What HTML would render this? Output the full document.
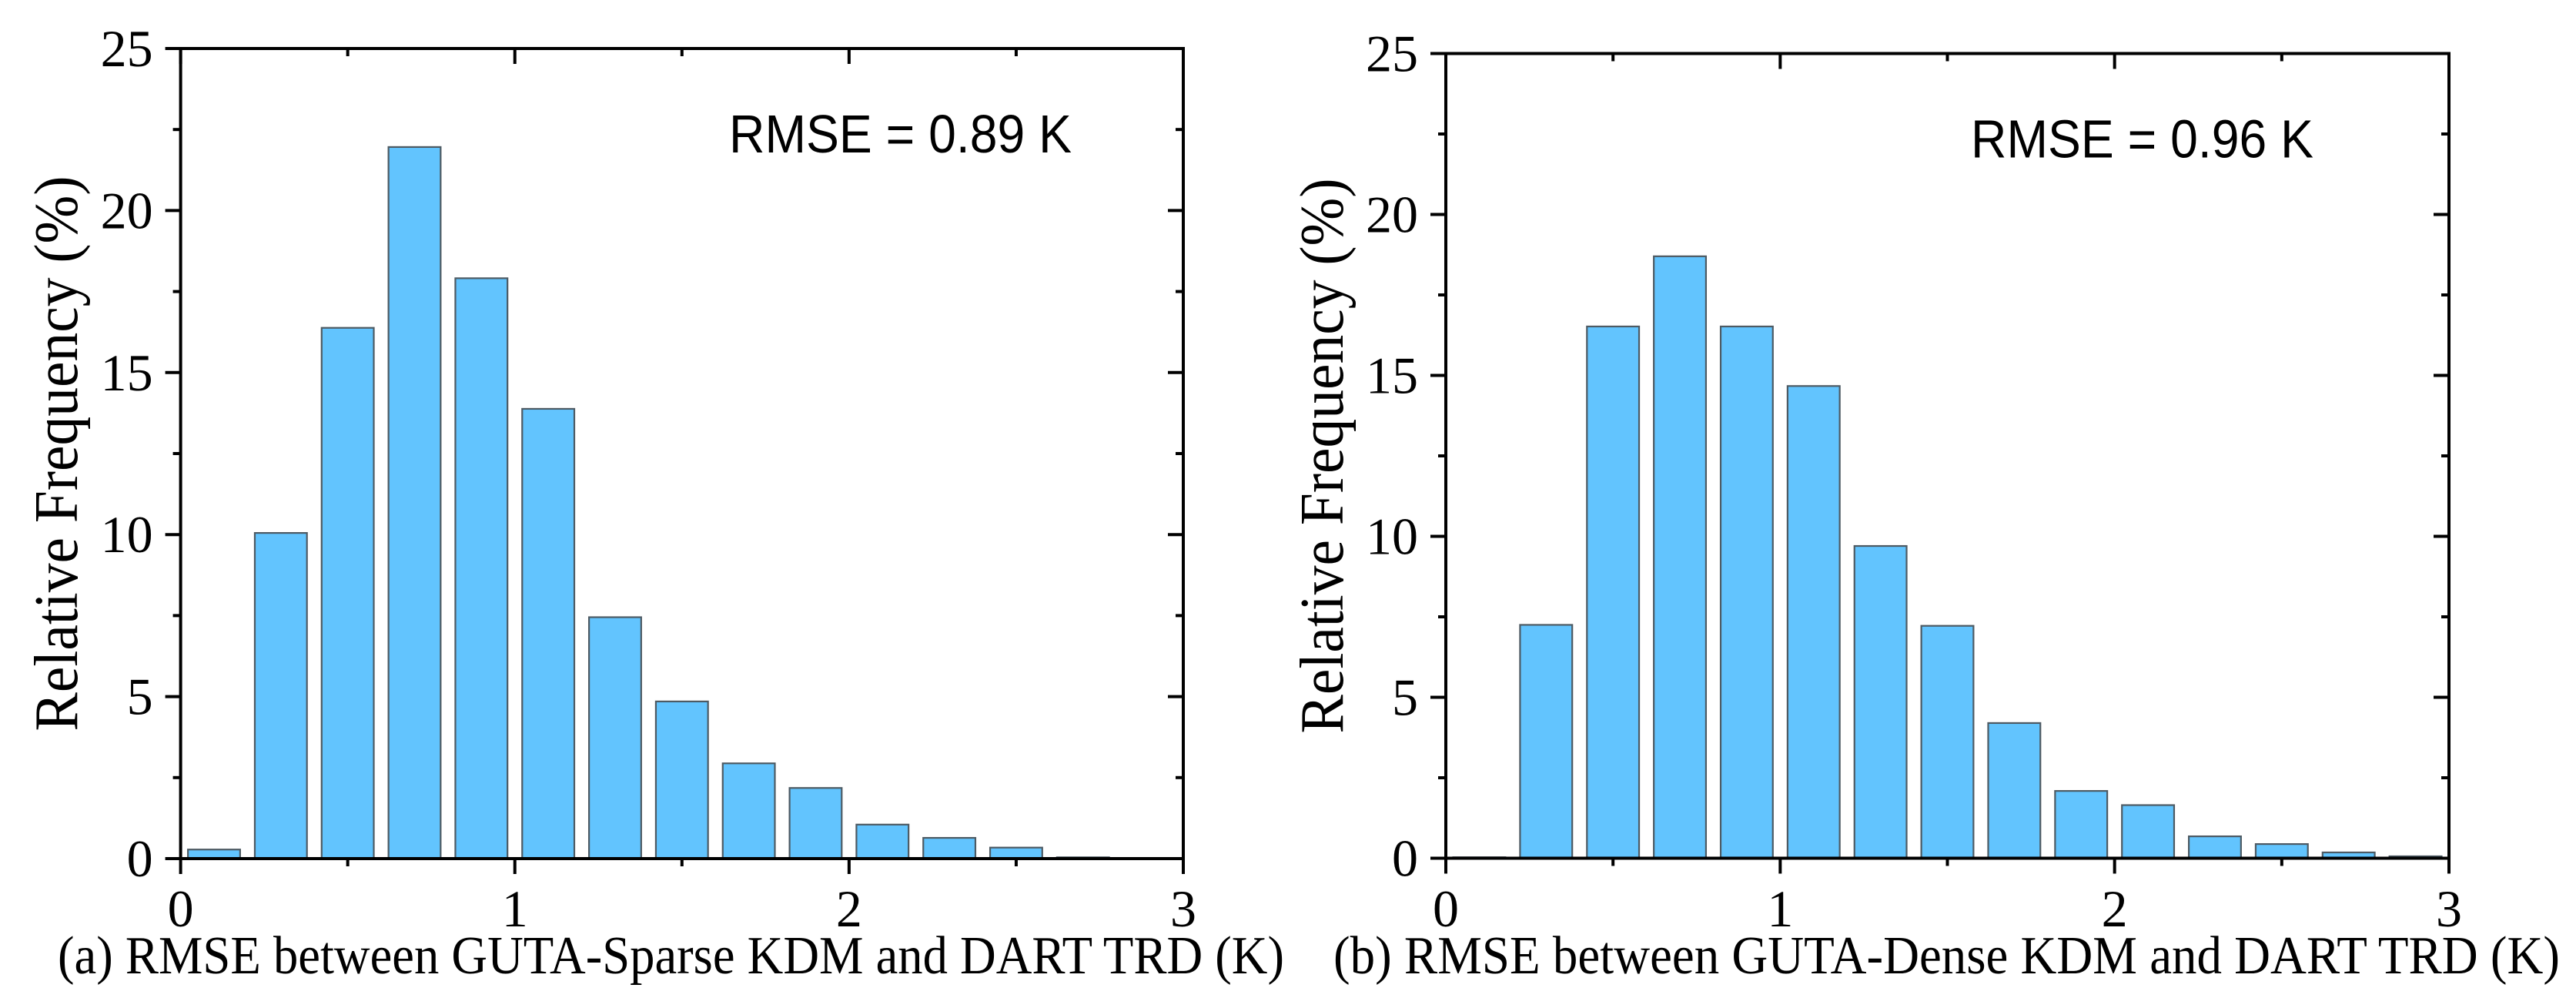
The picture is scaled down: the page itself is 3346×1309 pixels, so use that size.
<!DOCTYPE html>
<html><head><meta charset="utf-8"><style>
html,body{margin:0;padding:0;background:#fff;}
svg{display:block;}
</style></head><body>
<svg id="fig" width="3346" height="1309" viewBox="0 0 3346 1309" xmlns="http://www.w3.org/2000/svg"></svg>
<script>
// Chart data
const binCenters = [0.1,0.3,0.5,0.7,0.9,1.1,1.3,1.5,1.7,1.9,2.1,2.3,2.5,2.7,2.9];
const sparseValues = [0.28,10.05,16.38,21.96,17.91,13.88,7.45,4.85,2.94,2.18,1.05,0.64,0.34,0.04];
const denseValues = [0.03,7.25,16.52,18.7,16.52,14.67,9.7,7.22,4.2,2.09,1.65,0.68,0.44,0.18,0.06];
const xTickLabels = ["0","1","2","3"];
const yTickLabels = ["0","5","10","15","20","25"];
const rmseLabels = ["RMSE = 0.89 K","RMSE = 0.96 K"];
const captions = ["(a) RMSE between GUTA-Sparse KDM and DART TRD (K)","(b) RMSE between GUTA-Dense KDM and DART TRD (K)"];

const NS = "http://www.w3.org/2000/svg";
const svg = document.getElementById('fig');
function mk(tag, attrs, parent){
  const e = document.createElementNS(NS, tag);
  for (const k in attrs) e.setAttribute(k, attrs[k]);
  (parent||svg).appendChild(e);
  return e;
}
const panels = [
  {x0:234.6,x1:1537,y0:1115,y1:63,vals:sparseValues,rmse:rmseLabels[0],rmseX:947,cap:captions[0],capX:75,capW:1593,titleX:100,name:'panel-a'},
  {x0:1878,x1:3181,y0:1114.5,y1:69.5,vals:denseValues,rmse:rmseLabels[1],rmseX:2560,cap:captions[1],capX:1732,capW:1593,titleX:1744,name:'panel-b'}
];
const BW = 0.156;
panels.forEach(p=>{
  const g = mk('g',{});
  
  
  const sx = v => p.x0 + (p.x1-p.x0)*v/3;
  const sy = v => p.y0 + (p.y1-p.y0)*v/25;
  p.vals.forEach((v,i)=>{
    const c = binCenters[i];
    const r = mk('rect',{x:sx(c-BW/2),y:sy(v),width:sx(c+BW/2)-sx(c-BW/2),height:sy(0)-sy(v),fill:'#62c4fe',stroke:'#4d5a63','stroke-width':2.2},g);
    
    
  });
  const fr = mk('rect',{x:p.x0,y:p.y1,width:p.x1-p.x0,height:p.y0-p.y1,fill:'none',stroke:'#000','stroke-width':4},g);
  
  
  for (let k=0;k<=10;k++){
    const v = k*2.5, major = k%2===0, L = major?20:10, y = sy(v);
    mk('line',{x1:p.x0-L,y1:y,x2:p.x0,y2:y,stroke:'#000','stroke-width':4},g);
    mk('line',{x1:p.x1-L,y1:y,x2:p.x1,y2:y,stroke:'#000','stroke-width':4},g);
  }
  yTickLabels.forEach((t,i)=>{
    const tx = mk('text',{x:p.x0-36,y:sy(i*5)+23,'text-anchor':'end','font-family':'Liberation Serif, serif','font-size':68},g);
    tx.textContent = t;
    
    
  });
  for (let k=0;k<=6;k++){
    const v = k*0.5, major = k%2===0, L = major?20:10, x = sx(v);
    mk('line',{x1:x,y1:p.y0,x2:x,y2:p.y0+L,stroke:'#000','stroke-width':4},g);
    mk('line',{x1:x,y1:p.y1,x2:x,y2:p.y1+L,stroke:'#000','stroke-width':4},g);
  }
  xTickLabels.forEach((t,i)=>{
    const tx = mk('text',{x:sx(i),y:1203,'text-anchor':'middle','font-family':'Liberation Serif, serif','font-size':68},g);
    tx.textContent = t;
    
    
  });
  const yt = mk('text',{x:0,y:0,'text-anchor':'middle','font-family':'Liberation Serif, serif','font-size':80,textLength:721,lengthAdjust:'spacingAndGlyphs',transform:`translate(${p.titleX},${(p.y0+p.y1)/2}) rotate(-90)`},g);
  yt.textContent = 'Relative Frequency (%)';
  
  
  const rm = mk('text',{x:p.rmseX,y:p.y1+135,'font-family':'Liberation Sans, sans-serif','font-size':70,textLength:445,lengthAdjust:'spacingAndGlyphs'},g);
  rm.textContent = p.rmse;
  
  
  const cp = mk('text',{x:p.capX,y:1264,'font-family':'Liberation Serif, serif','font-size':70,textLength:p.capW,lengthAdjust:'spacingAndGlyphs'},g);
  cp.textContent = p.cap;
  
  
});
</script>
</body></html>
